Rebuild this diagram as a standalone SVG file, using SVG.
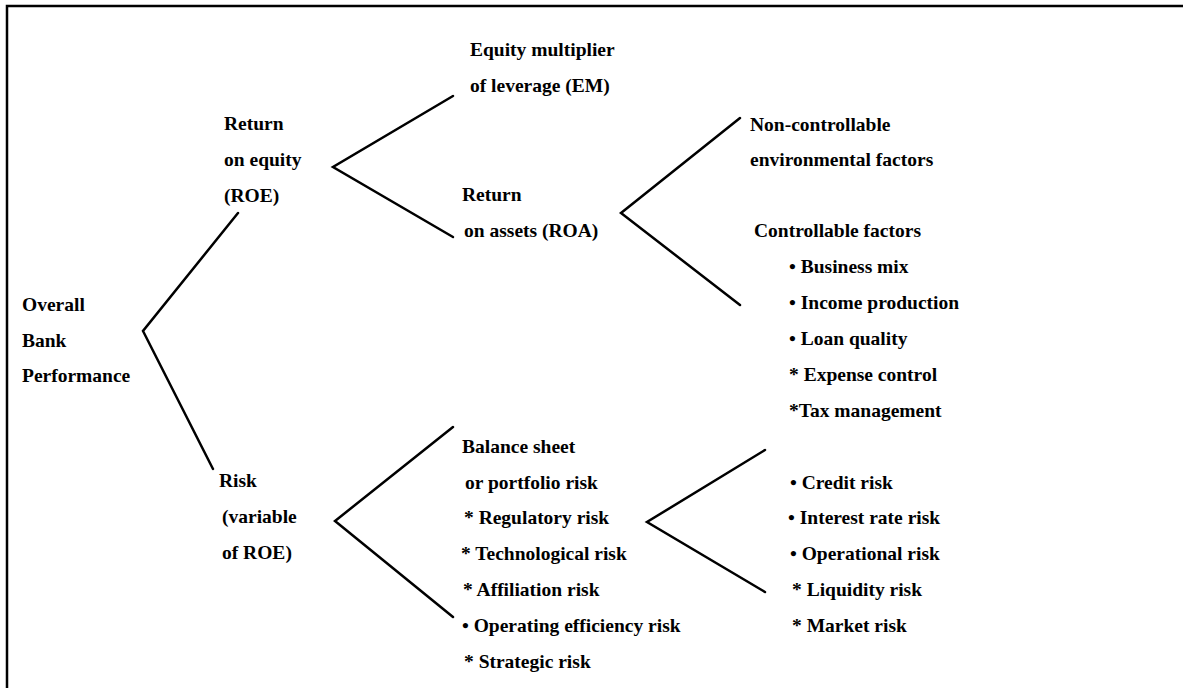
<svg xmlns="http://www.w3.org/2000/svg" width="1183" height="688" viewBox="0 0 1183 688">
  <style>
    .lbl { font-family: "Liberation Serif", "Times New Roman", serif; font-weight: bold; font-size: 19.5px; fill: #000; }
    .conn { stroke: #000; stroke-width: 2.5; fill: none; stroke-linecap: round; stroke-linejoin: miter; }
    .frame { stroke: #000; stroke-width: 2.5; fill: none; }
  </style>
  <rect width="1183" height="688" fill="#fff"/>

  <!-- partial frame: top and left edges -->
  <path class="frame" d="M7 688 V6 H1183"/>

  <!-- connectors -->
  <g id="connectors">
    <polyline class="conn" points="238,213 143,331 213,469"/>
    <polyline class="conn" points="453,96 333,167 453,237"/>
    <polyline class="conn" points="740,118 621,213 740,305"/>
    <polyline class="conn" points="453,427 335,521 453,617"/>
    <polyline class="conn" points="765,450 647,522 765,592"/>
  </g>

  <g id="overall">
    <text class="lbl" x="22" y="311">Overall</text>
    <text class="lbl" x="22" y="347">Bank</text>
    <text class="lbl" x="22" y="382">Performance</text>
  </g>

  <g id="roe">
    <text class="lbl" x="224" y="130">Return</text>
    <text class="lbl" x="224" y="166">on equity</text>
    <text class="lbl" x="224" y="202">(ROE)</text>
  </g>

  <g id="em">
    <text class="lbl" x="470" y="56">Equity multiplier</text>
    <text class="lbl" x="470" y="92">of leverage (EM)</text>
  </g>

  <g id="roa">
    <text class="lbl" x="462" y="201">Return</text>
    <text class="lbl" x="464" y="237">on assets (ROA)</text>
  </g>

  <g id="noncontrollable">
    <text class="lbl" x="750" y="131">Non-controllable</text>
    <text class="lbl" x="750" y="166">environmental factors</text>
  </g>

  <g id="controllable">
    <text class="lbl" x="754" y="237">Controllable factors</text>
    <text class="lbl" x="789" y="273">• Business mix</text>
    <text class="lbl" x="789" y="309">• Income production</text>
    <text class="lbl" x="789" y="345">• Loan quality</text>
    <text class="lbl" x="789" y="381">* Expense control</text>
    <text class="lbl" x="789" y="417">*Tax management</text>
  </g>

  <g id="risk">
    <text class="lbl" x="219" y="487">Risk</text>
    <text class="lbl" x="222" y="523">(variable</text>
    <text class="lbl" x="222" y="559">of ROE)</text>
  </g>

  <g id="balance-sheet">
    <text class="lbl" x="462" y="453">Balance sheet</text>
    <text class="lbl" x="465" y="489">or portfolio risk</text>
    <text class="lbl" x="464" y="524">* Regulatory risk</text>
    <text class="lbl" x="461" y="560">* Technological risk</text>
    <text class="lbl" x="463" y="596">* Affiliation risk</text>
    <text class="lbl" x="462" y="632">• Operating efficiency risk</text>
    <text class="lbl" x="464" y="668">* Strategic risk</text>
  </g>

  <g id="portfolio-risks">
    <text class="lbl" x="790" y="489">• Credit risk</text>
    <text class="lbl" x="788" y="524">• Interest rate risk</text>
    <text class="lbl" x="790" y="560">• Operational risk</text>
    <text class="lbl" x="792" y="596">* Liquidity risk</text>
    <text class="lbl" x="792" y="632">* Market risk</text>
  </g>
</svg>
